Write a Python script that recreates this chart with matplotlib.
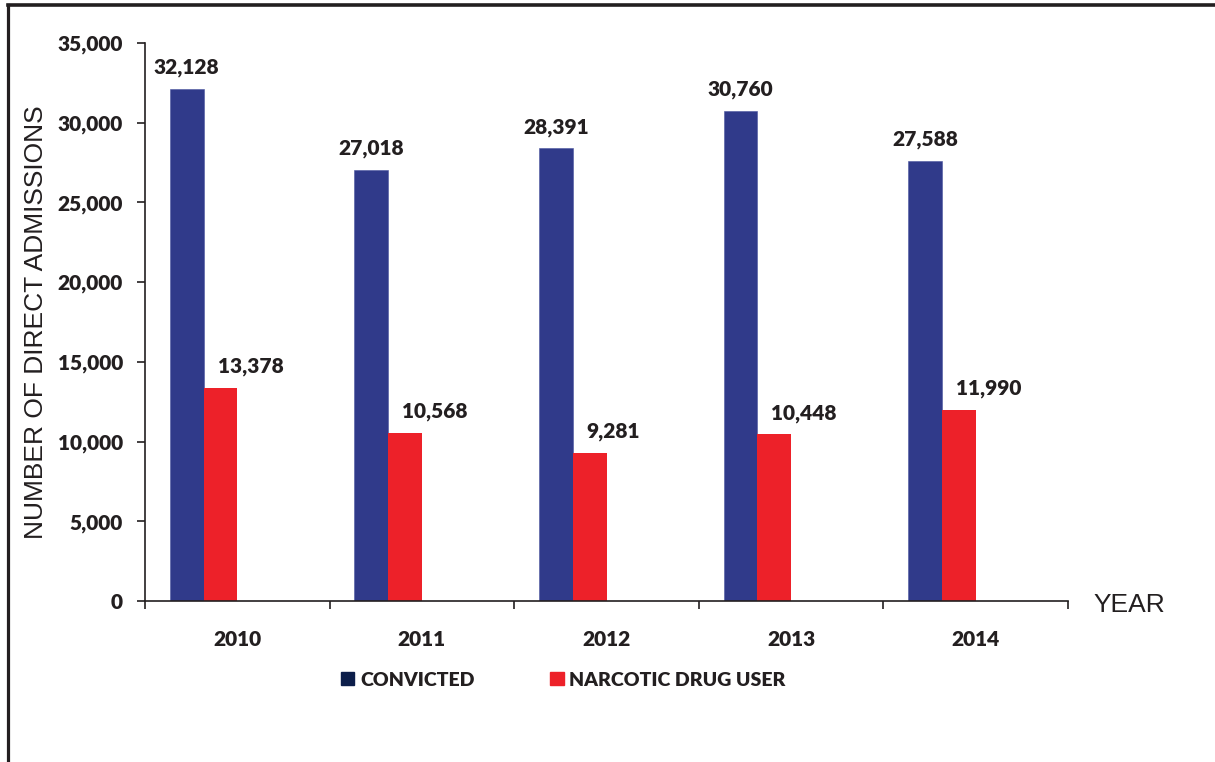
import matplotlib.pyplot as plt
import numpy as np
from matplotlib.lines import Line2D
from matplotlib.patches import Patch

# data
years = ["2010", "2011", "2012", "2013", "2014"]
convicted = [32128, 27018, 28391, 30760, 27588]
narcotic = [13378, 10568, 9281, 10448, 11990]
yticks = [0, 5000, 10000, 15000, 20000, 25000, 30000, 35000]

BLUE = "#303a8a"
RED = "#ed2129"
DARK = "#231f20"
BOLD = {"family": "Lato", "weight": "heavy"}

fig = plt.figure(figsize=(12.15, 7.62), dpi=100)
ax = fig.add_axes([145 / 1215, 1 - 601 / 762, (1068 - 145) / 1215, (601 - 43) / 762])

x = np.arange(len(years))
w = 0.183
ax.bar(x - 1.5 * w, convicted, w, color=BLUE, edgecolor="#4a55a0", linewidth=0.4)
ax.bar(x - 0.5 * w, narcotic, w, color=RED, linewidth=0)

# value labels
for xi, v in zip(x, convicted):
    ax.annotate(f"{v:,}", (xi - 1.5 * w, v), xytext=(0, 11), textcoords="offset points",
                ha="center", va="baseline", fontsize=15, color=DARK, **BOLD)
for xi, v in zip(x, narcotic):
    ax.annotate(f"{v:,}", (xi - 0.5 * w, v), xytext=(-2, 11), textcoords="offset points",
                ha="left", va="baseline", fontsize=15, color=DARK, **BOLD)

ax.set_xlim(-0.5, 4.5)
ax.set_ylim(0, 35000)
ax.set_yticks(yticks)
ax.set_yticklabels([f"{t:,}" for t in yticks], fontsize=15, color=DARK, **BOLD)
ax.set_xticks(x)
ax.set_xticklabels(years, fontsize=15, color=DARK, **BOLD)
ax.set_xticks(np.arange(-0.5, 5, 1), minor=True)
ax.tick_params(axis="x", which="major", length=0, pad=21)
ax.tick_params(axis="x", which="minor", length=6, width=1.2, color=DARK, direction="out")
ax.tick_params(axis="y", length=6, width=1.2, color=DARK, direction="out", pad=10)

for s in ("top", "right"):
    ax.spines[s].set_visible(False)
for s in ("left", "bottom"):
    ax.spines[s].set_color(DARK)
    ax.spines[s].set_linewidth(1.2)

ax.set_ylabel("NUMBER OF DIRECT ADMISSIONS", fontsize=19, family="Liberation Sans",
              color=DARK)
ax.yaxis.set_label_coords(-97 / 923, 0.5)
fig.text(1093 / 1215, 1 - 605 / 762, "YEAR", fontsize=19, family="Liberation Sans",
         color=DARK, ha="left", va="center")

handles = [Patch(color="#0c1e4a", label="CONVICTED"),
           Patch(color=RED, label="NARCOTIC DRUG USER")]
leg = fig.legend(handles=handles, loc="center left", bbox_to_anchor=(341 / 1215, 1 - 680 / 762),
                 ncol=2, frameon=False, handlelength=0.68, handleheight=0.68,
                 handletextpad=0.3, columnspacing=3.9, borderpad=0, borderaxespad=0,
                 prop={"family": "Lato", "weight": "heavy", "size": 14})
for t in leg.get_texts():
    t.set_color(DARK)

# outer frame (top and left edges only)
fig.add_artist(Line2D([7.5 / 1215, 1], [1 - 5 / 762, 1 - 5 / 762], color=DARK, lw=2.6,
                      transform=fig.transFigure))
fig.add_artist(Line2D([7.5 / 1215, 7.5 / 1215], [0, 1 - 5 / 762], color=DARK, lw=2.3,
                      transform=fig.transFigure))

fig.savefig("out.png", dpi=100)
